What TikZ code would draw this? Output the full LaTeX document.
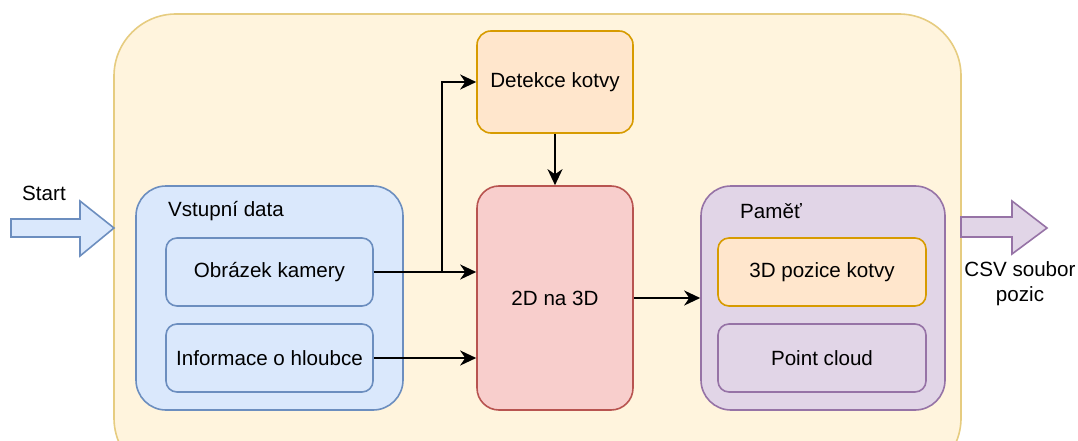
\documentclass[tikz,border=0pt]{standalone}
\usepackage{fontspec}
\setmainfont{Liberation Sans}
\usetikzlibrary{arrows.meta}
\definecolor{ylwF}{HTML}{FFF4DD}
\definecolor{ylwD}{HTML}{E6CC80}
\definecolor{bluF}{HTML}{DAE8FC}
\definecolor{bluD}{HTML}{6C8EBF}
\definecolor{orgF}{HTML}{FFE6CC}
\definecolor{orgD}{HTML}{D79B00}
\definecolor{redF}{HTML}{F8CECC}
\definecolor{redD}{HTML}{B85450}
\definecolor{purF}{HTML}{E1D5E7}
\definecolor{purD}{HTML}{9673A6}
\tikzset{
  box/.style={draw, line width=1.6pt, rounded corners=#1, inner sep=0pt},
  lbl/.style={font=\fontsize{20.6}{24}\selectfont, inner sep=0pt},
  conn/.style={line width=2pt, -{Stealth[length=16pt,width=15pt,inset=5pt]}},
}
\begin{document}
\begin{tikzpicture}[x=1pt,y=-1pt]
\useasboundingbox (0,0) rectangle (1078,441);
\clip (0,0) rectangle (1078,441);
% outer container
\path[box=62pt, fill=ylwF, draw=ylwD] (114,14) rectangle (961,480);
% start arrow
\draw[line width=1.6pt, draw=bluD, fill=bluF, line join=miter]
  (11,219) -- (80,219) -- (80,201) -- (114,228) -- (80,256) -- (80,237) -- (11,237) -- cycle;
\node[lbl, anchor=center] (start) at (44,193) {Start};
% CSV arrow
\draw[line width=1.6pt, draw=purD, fill=purF, line join=miter]
  (961,217) -- (1012,217) -- (1012,201) -- (1047,228) -- (1012,254) -- (1012,237) -- (961,237) -- cycle;
\node[lbl, align=center] (csv) at (1020,284) {CSV soubor\\[1pt]pozic};
% Vstupni data
\node[box=30pt, fill=bluF, draw=bluD, minimum width=267pt, minimum height=224pt] (vstbox) at (269.5,298) {};
\node[lbl, anchor=west] (vst) at (168,211) {Vstupní data};
\node[box=11pt, fill=bluF, draw=bluD, minimum width=207pt, minimum height=68pt, lbl] (obr) at (269.5,272) {Obrázek kamery};
\node[box=11pt, fill=bluF, draw=bluD, minimum width=207pt, minimum height=68pt, lbl] (inf) at (269.5,358) {Informace o hloubce};
% Detekce
\node[box=14pt, fill=orgF, draw=orgD, minimum width=156pt, minimum height=102pt, lbl] (det) at (555,82) {Detekce kotvy};
% 2D na 3D
\node[box=22pt, fill=redF, draw=redD, minimum width=156pt, minimum height=224pt, lbl] (two) at (555,298) {2D na 3D};
% Pamet
\node[box=30pt, fill=purF, draw=purD, minimum width=244pt, minimum height=224pt] (pambox) at (823,298) {};
\node[lbl, anchor=west] (pam) at (740,211) {Paměť};
\node[box=11pt, fill=orgF, draw=orgD, minimum width=208pt, minimum height=68pt, lbl] (poz) at (822,272) {3D pozice kotvy};
\node[box=11pt, fill=purF, draw=purD, minimum width=208pt, minimum height=68pt, lbl] (pc) at (822,358) {Point cloud};
% connectors
\coordinate (j) at (442,272);
\draw[conn] (obr.east) -- (two.west |- obr.east);
\draw[conn] (obr.east) -- (j) |- (det.west);
\draw[conn] (inf.east) -- (two.west |- inf.east);
\draw[conn] (det.south) -- (two.north);
\draw[conn] (two.east) -- (pambox.west);
\end{tikzpicture}
\end{document}
